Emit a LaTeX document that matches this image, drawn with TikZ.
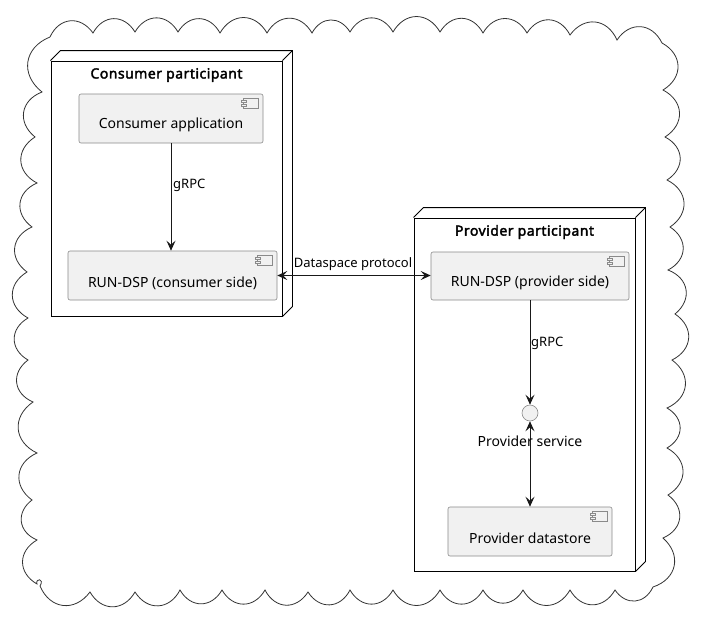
\documentclass[tikz,border=0pt]{standalone}
\usepackage{fontspec}
\setmainfont{Noto Sans}
\newfontfamily\titlefont{Noto Sans}[FakeBold=2.4,LetterSpace=3.5]
\usetikzlibrary{arrows.meta,calc}
\definecolor{compfill}{HTML}{F1F1F1}
\definecolor{compline}{HTML}{8A8A8A}
\definecolor{cloudline}{HTML}{333333}
\newcommand\compicon[1]{%
  \draw[iconline,fill=compfill] ($(#1.north east)+(-20,5)$) rectangle ($(#1.north east)+(-5,15)$);
  \draw[iconline,fill=compfill] ($(#1.north east)+(-22,7)$) rectangle ($(#1.north east)+(-17,9)$);
  \draw[iconline,fill=compfill] ($(#1.north east)+(-22,11)$) rectangle ($(#1.north east)+(-17,13)$);
}
\begin{document}
\begin{tikzpicture}[x=1pt,y=-1pt,
  ca/.style={bend left=60,looseness=1.3},
  nodefront/.style={draw=black,fill=white,line width=0.9pt,inner sep=0pt},
  nodeline/.style={draw=black,line width=0.9pt,line join=miter},
  comp/.style={draw=compline,fill=compfill,line width=0.6pt,rounded corners=2pt,inner sep=0pt},
  iconline/.style={draw=compline,line width=0.5pt},
  ctext/.style={font=\fontsize{14}{16}\selectfont,inner sep=0pt},
  title/.style={font=\titlefont\fontsize{14}{16}\selectfont,inner sep=0pt},
  elabel/.style={font=\fontsize{13}{15}\selectfont,inner sep=0pt},
  arr/.style={draw=black!90,line width=0.9pt,-{Stealth[length=10pt,width=9pt,inset=4pt]}},
  arrb/.style={draw=black!90,line width=0.9pt,{Stealth[length=10pt,width=9pt,inset=4pt]}-{Stealth[length=10pt,width=9pt,inset=4pt]}}
]
\useasboundingbox (0,0) rectangle (702,624);
% cloud
\draw[draw=cloudline,line width=0.8pt,fill=white]
  (50,37) to[ca] (93,33) to[ca] (135,32) to[ca] (178,32) to[ca] (220,33) to[ca] (267,33)
  to[ca] (312,33) to[ca] (350,32) to[ca] (393,32) to[ca] (440,32) to[ca] (483,33)
  to[ca] (527,33) to[ca] (570,35) to[ca] (617,40) to[ca] (662,43)
  to[ca] (663,90) to[ca] (665,137) to[ca] (667,180) to[ca] (670,227) to[ca] (668,270)
  to[ca] (675,314) to[ca] (672,360) to[ca] (667,408) to[ca] (667,448) to[ca] (668,495)
  to[ca] (663,538) to[ca] (653,587)
  to[ca] (615,590) to[ca] (570,590) to[ca] (523,590) to[ca] (483,590) to[ca] (440,590)
  to[ca] (393,590) to[ca] (350,590) to[ca] (308,592) to[ca] (265,590) to[ca] (222,590)
  to[ca] (180,590) to[ca] (135,592) to[ca] (90,592) to[ca] (40,586)
  .. controls (45,578) and (35,578) .. (37,584)
  to[ca] (37,540) to[ca] (32,500) to[ca] (37,453) to[ca] (33,402) to[ca] (28,360)
  to[ca] (28,318) to[ca] (27,272) to[ca] (32,227) to[ca] (37,183) to[ca] (35,137)
  to[ca] (42,92) to[ca] (50,37);
% consumer node
\node[nodefront,minimum width=231pt,minimum height=255pt] (cons) at (166.5,188.5) {};
\draw[nodeline] (cons.north west) -- ++(10,-10) -- ($(cons.north east)+(10,-10)$) -- ($(cons.south east)+(10,-10)$) -- (cons.south east);
\draw[nodeline] (cons.north east) -- ++(10,-10);
\node[title] (cons-t) at (166.5,75) {Consumer participant};
% provider node
\node[nodefront,minimum width=221pt,minimum height=353pt] (prov) at (524.5,394.5) {};
\draw[nodeline] (prov.north west) -- ++(10,-10) -- ($(prov.north east)+(10,-10)$) -- ($(prov.south east)+(10,-10)$) -- (prov.south east);
\draw[nodeline] (prov.north east) -- ++(10,-10);
\node[title] (prov-t) at (524.5,232) {Provider participant};
% components
\node[comp,minimum width=184pt,minimum height=49pt] (capp) at (171,118.5) {};
\compicon{capp}
\node[ctext] (capp-t) at (171,125) {Consumer application};
\node[comp,minimum width=209pt,minimum height=49pt] (cdsp) at (172.5,275.5) {};
\compicon{cdsp}
\node[ctext] (cdsp-t) at (172.5,283) {RUN-DSP (consumer side)};
\node[comp,minimum width=198pt,minimum height=48pt] (pdsp) at (530,276) {};
\compicon{pdsp}
\node[ctext] (pdsp-t) at (530,283) {RUN-DSP (provider side)};
\node[comp,minimum width=164pt,minimum height=49pt] (pstore) at (530,531.5) {};
\compicon{pstore}
\node[ctext] (pstore-t) at (530,538) {Provider datastore};
\node[circle,draw=compline,fill=compfill,line width=0.6pt,minimum size=16pt,inner sep=0pt] (psvc) at (530,413) {};
% connectors
\draw[arr] (capp.south) -- (capp.south |- cdsp.north);
\node[elabel,anchor=west] (g1) at (173,185) {gRPC};
\draw[arrb] (cdsp.east) -- (cdsp.east -| pdsp.west);
\node[elabel] (dsp) at (353,264) {Dataspace protocol};
\draw[arr] (pdsp.south) -- (psvc.north);
\node[elabel,anchor=west] (g2) at (531,343) {gRPC};
\draw[arrb] (psvc.south) -- (pstore.north);
\node[ctext] (psvc-t) at (530,441) {Provider service};
\end{tikzpicture}
\end{document}
